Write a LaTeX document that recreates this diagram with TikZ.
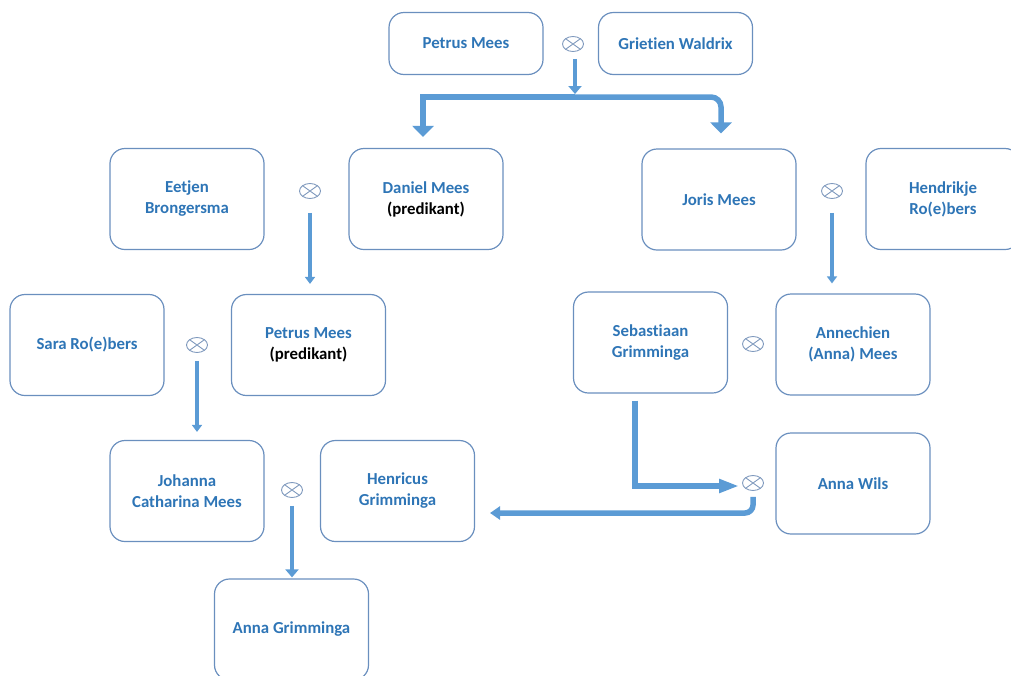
\documentclass[tikz,border=0pt]{standalone}
\usepackage{fontspec}
\setmainfont{Carlito}[Ligatures=NoCommon]
\usetikzlibrary{arrows.meta,shapes.geometric}
\definecolor{txt}{HTML}{2E75B6}
\definecolor{bord}{HTML}{6A8FBE}
\definecolor{arr}{HTML}{5B9BD5}
\definecolor{ring}{HTML}{7F99BD}
\begin{document}
\begin{tikzpicture}[x=1pt,y=-1pt,
  person/.style={draw=bord, line width=1.2pt, rounded corners=15pt,
    minimum width=154pt, minimum height=101pt, align=center, text=txt,
    font=\fontsize{16.8}{21}\selectfont\bfseries, inner sep=0pt},
  wed/.style={ellipse, draw=ring, line width=0.9pt, minimum width=21pt,
    minimum height=15pt, inner sep=0pt,
    path picture={\draw[ring, line width=0.9pt]
      (path picture bounding box.north west) -- (path picture bounding box.south east)
      (path picture bounding box.north east) -- (path picture bounding box.south west);}},
  thinarrow/.style={draw=arr, line width=3.5pt, -{Triangle[width=10pt,length=7pt]}},
  medarrow/.style={draw=arr, line width=4.5pt, -{Triangle[width=13pt,length=8pt]}},
  bigarrow/.style={draw=arr, line width=5.5pt, -{Triangle[width=21pt,length=11pt]}},
  longarrow/.style={draw=arr, line width=5.5pt, -{Triangle[width=13pt,length=20pt]}}
]
\useasboundingbox (0,0) rectangle (1011,675);
\clip (0,0) rectangle (1011,675);

% row 1
\node[person, minimum height=62pt] (pm1) at (466,43.5) {Petrus Mees};
\node[person, minimum height=62pt] (gw) at (675.5,43.5) {Grietien Waldrix};
\node[wed] (m1) at (573,44) {};

% row 2
\node[person] (eetjen) at (187,199) {Eetjen\\Brongersma};
\node[wed] (m2) at (310,191) {};
\node[person] (daniel) at (426,199) {Daniel Mees\\{\color{black}(predikant)}};
\node[person] (joris) at (719,199.5) {Joris Mees};
\node[wed] (m4) at (832,191) {};
\node[person] (hendrikje) at (943,199) {Hendrikje\\Ro(e)bers};

% row 3
\node[person] (sara) at (87,345) {Sara Ro(e)bers};
\node[wed] (m3) at (197,345) {};
\node[person] (petrus2) at (308.5,345) {Petrus Mees\\{\color{black}(predikant)}};
\node[person] (seb) at (650.5,342.5) {Sebastiaan\\Grimminga};
\node[wed] (m5) at (753,344) {};
\node[person] (annechien) at (853,344.5) {Annechien\\(Anna) Mees};

% row 4
\node[person] (johanna) at (187,491) {Johanna\\Catharina Mees};
\node[wed] (m6) at (292,490) {};
\node[person] (henricus) at (397.5,491) {Henricus\\Grimminga};
\node[wed] (m7) at (753,483) {};
\node[person] (annawils) at (853,483.5) {Anna Wils};

% row 5
\node[person] (annag) at (291.5,629.5) {Anna Grimminga};

% connectors
\coordinate (bar) at (575,97);
\coordinate (hend) at (490,513);
\draw[medarrow, shorten <=7pt, shorten >=3pt] (m1.south -| bar) -- (bar);
\draw[bigarrow] (bar) -| ([xshift=-3pt,yshift=11pt]daniel.north);
\draw[bigarrow, rounded corners=10pt] (bar) -| ([xshift=2pt,yshift=15pt]joris.north);

\draw[thinarrow, shorten <=14pt, shorten >=10pt] (m2.south) -- (m2.south |- petrus2.north);
\draw[thinarrow, shorten <=14pt, shorten >=10pt] (m4.south) -- (m4.south |- annechien.north);
\draw[thinarrow, shorten <=8pt, shorten >=8pt] (m3.south) -- (m3.south |- johanna.north);
\draw[medarrow, shorten <=8pt, shorten >=1pt] (m6.south) -- (m6.south |- annag.north);

\draw[longarrow, shorten <=7pt, shorten >=3pt] ([xshift=-15.5pt]seb.south) |- ([yshift=-3pt]m7.west);
\draw[longarrow, -{Triangle[width=13pt,length=10pt]}, rounded corners=8pt, shorten <=6pt] (m7.south) |- (hend);
\end{tikzpicture}
\end{document}
